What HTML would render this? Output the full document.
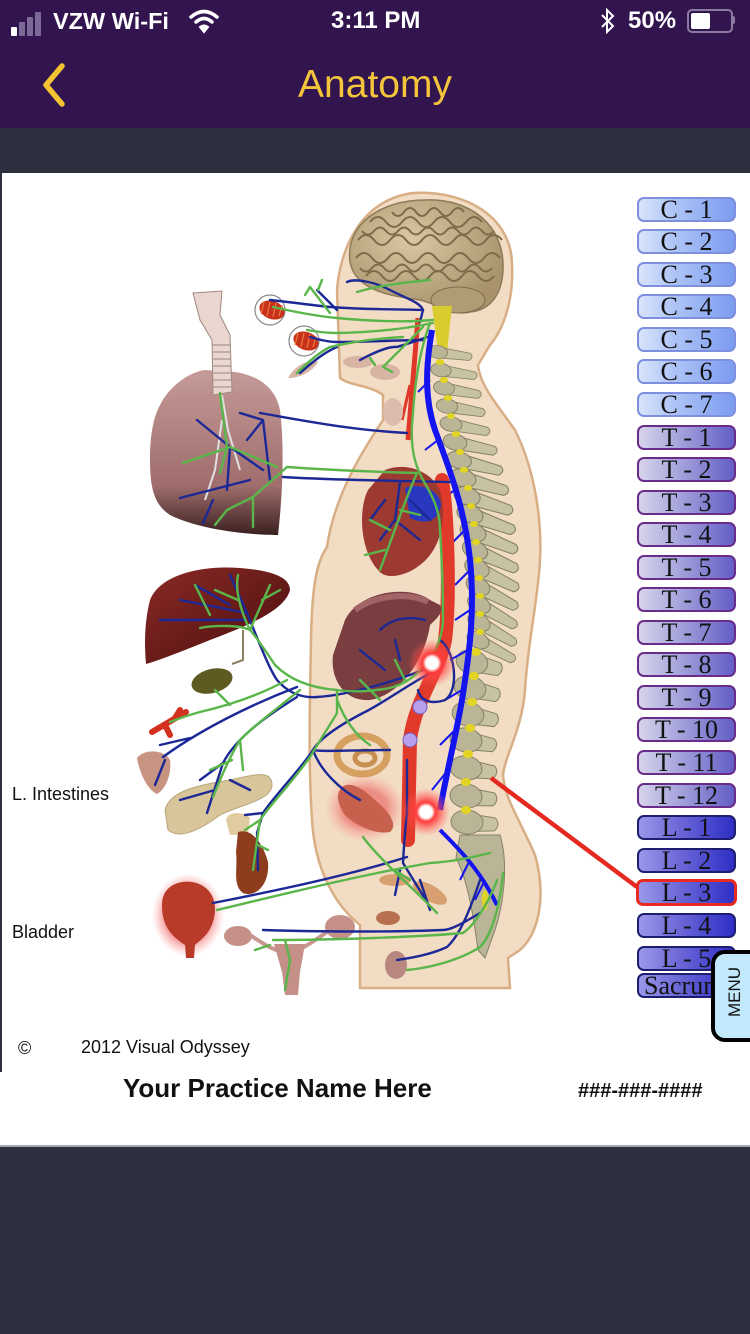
<!DOCTYPE html>
<html><head><meta charset="utf-8">
<style>
html,body{margin:0;padding:0;}
body{width:750px;height:1334px;position:relative;overflow:hidden;background:#2d2e3e;font-family:"Liberation Sans",sans-serif;}
.abs{position:absolute;}
#status{left:0;top:0;width:750px;height:128px;background:#32154f;}
.st{color:#fff;font-size:24px;top:6px;line-height:30px;}
.btn{position:absolute;left:637px;width:95px;height:21px;border-radius:7px;font-family:"Liberation Serif",serif;font-size:26px;line-height:22px;text-align:center;color:#111;white-space:nowrap;overflow:hidden;}
.c{background:linear-gradient(90deg,#d8e4fb 0%,#b0c6f6 35%,#7c9cf0 100%);border:2px solid #7d8fde;}
.t{background:linear-gradient(90deg,#d6d4ea 0%,#a8a6dc 40%,#625ec6 100%);border:2px solid #6a2c8a;}
.l{background:linear-gradient(90deg,#9a98e8 0%,#6e6ad8 40%,#2e2ec6 100%);border:2px solid #1e1e70;}
.lbl{color:#111;font-size:18px;}
</style></head>
<body>
<div id="status" class="abs"></div>
<!-- status bar -->
<div class="abs" style="left:11px;top:27px;width:6px;height:9px;background:#fff;border-radius:1px"></div>
<div class="abs" style="left:19px;top:22px;width:6px;height:14px;background:#7d6a98;border-radius:1px"></div>
<div class="abs" style="left:27px;top:17px;width:6px;height:19px;background:#7d6a98;border-radius:1px"></div>
<div class="abs" style="left:35px;top:12px;width:6px;height:24px;background:#7d6a98;border-radius:1px"></div>
<div class="abs st" style="left:53px;font-weight:bold;font-size:23.5px;">VZW Wi-Fi</div>
<svg class="abs" style="left:189px;top:8px" width="30" height="26" viewBox="0 0 30 26">
<path d="M2,9 Q15,-2 28,9" stroke="#fff" stroke-width="3.5" fill="none" stroke-linecap="round"/>
<path d="M7,14 Q15,7 23,14" stroke="#fff" stroke-width="3.5" fill="none" stroke-linecap="round"/>
<path d="M11,19 Q15,16 19,19 L15,24 Z" fill="#fff" stroke="#fff" stroke-width="2"/>
</svg>
<div class="abs st" style="left:331px;font-weight:bold;">3:11 PM</div>
<svg class="abs" style="left:599px;top:8px" width="18" height="26" viewBox="0 0 18 26">
<path d="M3,7 L14,18 L8,24 L8,2 L14,8 L3,19" stroke="#fff" stroke-width="2" fill="none"/>
</svg>
<div class="abs st" style="left:628px;font-size:24px;font-weight:bold;">50%</div>
<div class="abs" style="left:687px;top:9px;width:42px;height:20px;border:2px solid #8a7aa0;border-radius:5px;"></div>
<div class="abs" style="left:691px;top:13px;width:19px;height:16px;background:#fff;border-radius:2px;"></div>
<div class="abs" style="left:732px;top:16px;width:3px;height:8px;background:#8a7aa0;border-radius:0 2px 2px 0;"></div>
<!-- nav -->
<svg class="abs" style="left:36px;top:60px" width="36" height="50" viewBox="0 0 36 50">
<path d="M26,6 L10,25 L26,44" stroke="#f3c332" stroke-width="5.5" fill="none" stroke-linecap="round" stroke-linejoin="round"/>
</svg>
<div class="abs" style="left:0;width:750px;top:60px;text-align:center;color:#f4c43a;font-size:39px;line-height:50px;">Anatomy</div>

<!-- white content -->
<div class="abs" style="left:2px;top:173px;width:748px;height:900px;background:#fff"></div>
<div class="abs" style="left:0;top:1072px;width:750px;height:73px;background:#fff"></div>
<div class="abs" style="left:0;top:1145px;width:750px;height:2px;background:#a6a6ae"></div>

<svg class="abs" style="left:0;top:0" width="750" height="1334" viewBox="0 0 750 1334">
<defs>
<radialGradient id="glow" cx="50%" cy="50%" r="50%">
<stop offset="0" stop-color="#fff"/>
<stop offset="0.25" stop-color="#fff"/>
<stop offset="0.4" stop-color="#ff3a3a"/>
<stop offset="0.7" stop-color="#ff4848" stop-opacity="0.45"/>
<stop offset="1" stop-color="#ff6060" stop-opacity="0"/>
</radialGradient>
<radialGradient id="pglow" cx="50%" cy="50%" r="50%">
<stop offset="0.55" stop-color="#e85050" stop-opacity="0.8"/>
<stop offset="1" stop-color="#ff9090" stop-opacity="0"/>
</radialGradient>
<linearGradient id="lungg" x1="0" y1="0" x2="0" y2="1">
<stop offset="0" stop-color="#c59a98"/><stop offset="0.7" stop-color="#a06e6c"/><stop offset="1" stop-color="#3a2020"/>
</linearGradient>
<linearGradient id="liverg" x1="0" y1="0" x2="1" y2="1">
<stop offset="0" stop-color="#8a2a26"/><stop offset="1" stop-color="#4a0e0e"/>
</linearGradient>
<radialGradient id="braing" cx="40%" cy="35%" r="65%">
<stop offset="0" stop-color="#d9c8a2"/><stop offset="1" stop-color="#a8936c"/>
</radialGradient>
<g id="v">
<path d="M4,-6 L40,-4 Q46,0 40,5 L4,7 Z" fill="#c6c2a2" stroke="#858266" stroke-width="1"/>
<ellipse cx="0" cy="0" rx="12" ry="8" fill="#b9b596" stroke="#858266" stroke-width="1"/>
</g>
<g id="lv">
<path d="M6,-8 L28,-6 Q34,0 28,7 L6,9 Z" fill="#c6c2a2" stroke="#858266" stroke-width="1"/>
<ellipse cx="0" cy="0" rx="16" ry="12" fill="#b9b596" stroke="#858266" stroke-width="1"/>
</g>
</defs>

<!-- body silhouette -->
<path d="M413,193 C470,190 512,220 512,265 C514,300 503,330 490,345 L478,365 C480,385 495,402 515,430 C535,470 542,520 540,560 C538,600 528,640 525,690 C522,730 505,755 503,775 C505,800 520,820 535,855 C545,890 542,930 520,950 L508,958 L510,988 L360,988 L360,925 C335,905 315,870 312,820 C308,760 310,700 311,640 C312,580 318,560 327,547 C335,490 370,440 383,420 L383,395 C370,385 350,386 340,378 L337,290 C340,250 360,200 413,193 Z" fill="#f3dcc4" stroke="#d8ae84" stroke-width="2.5"/>

<!-- brain -->
<path d="M350,262 C345,225 380,200 425,200 C470,198 505,225 503,270 C502,295 490,310 470,312 C455,316 440,305 420,300 C390,296 355,290 350,262 Z" fill="url(#braing)" stroke="#8c7b58" stroke-width="1.5"/>
<g stroke="#7f6b48" stroke-width="2" fill="none">
<path d="M370,222 q8,-10 16,0 t16,0 t16,0 t16,0 t16,0 t16,0 t16,0"/>
<path d="M358,240 q8,-10 16,0 t16,0 t16,0 t16,0 t16,0 t16,0 t16,0 t16,0 t16,0"/>
<path d="M356,258 q8,-10 16,0 t16,0 t16,0 t16,0 t16,0 t16,0 t16,0 t16,0 t16,0"/>
<path d="M366,276 q8,-10 16,0 t16,0 t16,0 t16,0 t16,0 t16,0 t16,0 t16,0"/>
<path d="M392,212 q6,8 12,0 t12,0 t12,0 t12,0 t12,0 t12,0"/>
<path d="M362,231 q6,7 12,0 t12,0 t12,0 t12,0 t12,0 t12,0 t12,0 t12,0 t12,0 t12,0 t12,0"/>
<path d="M360,268 q6,7 12,0 t12,0 t12,0 t12,0 t12,0 t12,0 t12,0 t12,0 t12,0 t12,0 t12,0"/>
</g>
<ellipse cx="458" cy="300" rx="27" ry="13" fill="#b09c74" stroke="#7f6b48" stroke-width="1"/>
<path d="M432,306 L452,306 L447,352 L438,352 Z" fill="#d8cc2e"/>

<!-- carotid -->
<path d="M418,318 L408,440" stroke="#e03828" stroke-width="5" fill="none"/>
<path d="M410,385 L402,420" stroke="#e03828" stroke-width="3" fill="none"/>

<!-- spine -->
<use href="#v" transform="translate(438,352) rotate(8) scale(0.8)"/>
<use href="#v" transform="translate(441,370) rotate(9) scale(0.85)"/>
<use href="#v" transform="translate(444,388) rotate(10) scale(0.88)"/>
<use href="#v" transform="translate(447,406) rotate(10) scale(0.9)"/>
<use href="#v" transform="translate(451,424) rotate(11) scale(0.92)"/>
<use href="#v" transform="translate(455,442) rotate(12) scale(1)"/>
<use href="#v" transform="translate(459,460) rotate(14) scale(1.05)"/>
<use href="#v" transform="translate(463,478) rotate(16) scale(1.1)"/>
<use href="#v" transform="translate(467,496) rotate(18) scale(1.12)"/>
<use href="#v" transform="translate(470,514) rotate(20) scale(1.12)"/>
<use href="#v" transform="translate(473,532) rotate(22) scale(1.12)"/>
<use href="#v" transform="translate(475,550) rotate(24) scale(1.1)"/>
<use href="#v" transform="translate(477,568) rotate(26) scale(1.08)"/>
<use href="#v" transform="translate(478,586) rotate(28) scale(1.05)"/>
<use href="#v" transform="translate(479,604) rotate(30) scale(1.02)"/>
<use href="#v" transform="translate(479,622) rotate(30) scale(1)"/>
<use href="#v" transform="translate(478,640) rotate(28) scale(0.98)"/>
<use href="#lv" transform="translate(472,662) rotate(14)"/>
<use href="#lv" transform="translate(470,688) rotate(14)"/>
<use href="#lv" transform="translate(468,714) rotate(12)"/>
<use href="#lv" transform="translate(466,740) rotate(10)"/>
<use href="#lv" transform="translate(466,768) rotate(8)"/>
<use href="#lv" transform="translate(466,796) rotate(6)"/>
<use href="#lv" transform="translate(467,822) rotate(4)"/>
<path d="M460,835 L500,835 C508,860 505,900 495,930 L485,958 L478,950 C474,920 468,880 456,858 Z" fill="#b9b596" stroke="#858266" stroke-width="1"/>
<g fill="#e2d422">
<ellipse cx="440" cy="362" rx="4" ry="3"/><ellipse cx="444" cy="380" rx="4" ry="3"/><ellipse cx="448" cy="398" rx="4" ry="3"/>
<ellipse cx="451" cy="416" rx="4" ry="3"/><ellipse cx="456" cy="434" rx="4" ry="3"/><ellipse cx="460" cy="452" rx="4" ry="3"/>
<ellipse cx="464" cy="470" rx="4" ry="3"/><ellipse cx="468" cy="488" rx="4" ry="3"/><ellipse cx="471" cy="506" rx="4" ry="3"/>
<ellipse cx="474" cy="524" rx="4" ry="3"/><ellipse cx="476" cy="542" rx="4" ry="3"/><ellipse cx="478" cy="560" rx="4" ry="3"/>
<ellipse cx="479" cy="578" rx="4" ry="3"/><ellipse cx="480" cy="596" rx="4" ry="3"/><ellipse cx="480" cy="614" rx="4" ry="3"/>
<ellipse cx="480" cy="632" rx="4" ry="3"/><ellipse cx="476" cy="652" rx="5" ry="4"/><ellipse cx="474" cy="676" rx="5" ry="4"/>
<ellipse cx="472" cy="702" rx="5" ry="4"/><ellipse cx="470" cy="728" rx="5" ry="4"/><ellipse cx="468" cy="754" rx="5" ry="4"/>
<ellipse cx="466" cy="782" rx="5" ry="4"/><ellipse cx="466" cy="810" rx="5" ry="4"/><ellipse cx="485" cy="900" rx="3" ry="10"/>
</g>

<!-- spinal blue cord -->
<path d="M432,330 C425,370 425,400 435,430 C450,470 465,510 470,560 C475,610 470,650 462,700 C455,740 445,780 440,810" stroke="#1414f0" stroke-width="6" fill="none"/>
<path d="M440,830 C460,850 480,870 497,905" stroke="#1414f0" stroke-width="4" fill="none"/>
<g stroke="#1414f0" stroke-width="2" fill="none">
<path d="M430,380 L418,392"/><path d="M438,440 L425,450"/><path d="M455,490 L440,500"/><path d="M465,530 L450,545"/>
<path d="M470,570 L455,585"/><path d="M470,610 L455,620"/><path d="M468,650 L450,660"/><path d="M462,690 L445,700"/>
<path d="M455,730 L440,745"/><path d="M448,770 L432,790"/><path d="M470,860 L460,880"/><path d="M485,880 L475,900"/>
</g>

<!-- aorta -->
<path d="M442,480 C448,520 450,600 445,640 C440,670 415,700 410,740 L408,840" stroke="#e23a2a" stroke-width="14" fill="none" stroke-linecap="round"/>

<!-- heart -->
<path d="M385,470 C405,462 430,470 440,490 C448,520 440,550 420,565 C405,577 385,580 378,570 C360,550 358,510 368,490 Z" fill="#9c3a32"/>
<path d="M405,488 C420,482 440,490 441,505 C438,522 425,525 410,518 Z" fill="#2a38c0"/>

<!-- stomach -->
<path d="M345,620 C360,590 410,585 430,600 L440,605 C445,612 435,620 430,625 C425,660 400,695 370,700 C345,702 330,680 333,655 Z" fill="#7a3e40"/>
<path d="M355,610 C375,595 410,592 428,602" stroke="#a26466" stroke-width="6" fill="none"/>

<!-- face small organs -->
<ellipse cx="358" cy="362" rx="15" ry="6" fill="#d8b4a4"/>
<ellipse cx="385" cy="372" rx="15" ry="8" fill="#d8b4a4"/>
<path d="M288,378 C295,365 310,358 318,362 C312,372 300,378 288,378 Z" fill="#d8b4a4"/>
<ellipse cx="393" cy="412" rx="10" ry="14" fill="#dcbcae"/>

<!-- trachea & lung -->
<path d="M160,405 C170,385 190,372 205,370 L235,372 C255,375 275,385 280,410 C285,450 282,500 278,535 C250,535 200,530 170,515 C155,505 150,490 150,460 C150,440 152,420 160,405 Z" fill="url(#lungg)"/>
<path d="M193,293 L222,291 L220,315 L230,335 L232,392 L213,395 L212,340 L200,320 Z" fill="#e8d6cf" stroke="#a08880" stroke-width="1"/>
<g stroke="#a89890" stroke-width="1.2">
<path d="M212,345 L231,345"/><path d="M212,352 L231,352"/><path d="M212,359 L231,359"/><path d="M212,366 L231,366"/><path d="M212,373 L231,373"/><path d="M212,380 L231,380"/><path d="M212,387 L231,387"/>
</g>
<path d="M222,395 L228,430 L240,470 M222,420 L215,470 L205,500" stroke="#e0e0e0" stroke-width="2" fill="none"/>

<!-- eyes -->
<circle cx="270" cy="310" r="15" fill="#fff" stroke="#888" stroke-width="1.2"/>
<ellipse cx="272" cy="310" rx="13" ry="9" fill="#c8321a" transform="rotate(20 272 310)"/>
<circle cx="304" cy="341" r="15" fill="#fff" stroke="#888" stroke-width="1.2"/>
<ellipse cx="306" cy="341" rx="13" ry="9" fill="#c8321a" transform="rotate(20 306 341)"/>
<g stroke="#e87a40" stroke-width="1.2"><path d="M264,302 L261,314 M270,302 L267,316 M276,303 L273,317 M282,305 L279,316"/><path d="M298,333 L295,345 M304,333 L301,347 M310,334 L307,348 M316,336 L313,347"/></g>

<!-- liver -->
<path d="M150,600 C160,575 200,565 240,568 C265,570 290,575 290,590 C285,610 250,625 210,640 C180,652 160,660 146,664 C144,640 145,620 150,600 Z" fill="url(#liverg)"/>
<path d="M243,630 L243,660 L232,664" stroke="#8a8060" stroke-width="2" fill="none"/>
<ellipse cx="212" cy="681" rx="21" ry="12" fill="#5e5a22" transform="rotate(-15 212 681)"/>
<path d="M152,732 L186,712 M165,725 L170,735 M175,718 L180,710" stroke="#d43020" stroke-width="6" fill="none" stroke-linecap="round"/>
<path d="M137,758 C145,748 165,750 170,760 C172,775 165,790 157,794 C148,790 140,775 137,758 Z" fill="#c89482"/>
<path d="M165,810 C170,790 200,785 230,780 C250,776 272,768 272,785 C272,800 240,805 220,815 C200,830 180,840 168,830 Z" fill="#d8c59a" stroke="#b8a57a" stroke-width="1"/>
<path d="M226,820 C228,810 245,812 250,818 L248,835 L230,835 Z" fill="#e0cca0"/>
<path d="M238,832 C250,828 262,840 268,862 C270,885 255,898 243,893 C232,885 238,868 236,852 Z" fill="#8e3c1e"/>

<!-- bladder -->
<ellipse cx="188" cy="915" rx="36" ry="42" fill="url(#pglow)"/>
<path d="M162,905 C162,885 180,880 192,882 C210,885 218,900 214,918 C210,935 200,940 195,945 L194,958 L186,958 L185,945 C170,935 162,925 162,905 Z" fill="#b83a28"/>

<!-- reproductive -->
<path d="M250,935 C265,945 275,952 288,952 C300,952 315,940 330,930" stroke="#c89890" stroke-width="4" fill="none"/>
<ellipse cx="238" cy="936" rx="14" ry="10" fill="#c49088"/>
<ellipse cx="340" cy="927" rx="15" ry="12" fill="#c49088"/>
<path d="M274,944 L305,944 L300,972 L298,995 L285,995 L282,972 Z" fill="#c49088"/>

<!-- intestine coil / red organ / small organs -->
<ellipse cx="362" cy="755" rx="25" ry="19" fill="none" stroke="#d5a060" stroke-width="7"/>
<ellipse cx="365" cy="758" rx="10" ry="7" fill="none" stroke="#c89050" stroke-width="5"/>
<ellipse cx="365" cy="808" rx="40" ry="34" fill="url(#pglow)" opacity="0.7"/>
<path d="M340,790 C345,780 360,785 375,800 C390,812 398,825 390,832 C375,835 355,825 345,815 C338,805 336,795 340,790 Z" fill="#c8604e"/>
<ellipse cx="395" cy="880" rx="16" ry="6" fill="#d8a070"/>
<ellipse cx="430" cy="893" rx="19" ry="8" fill="#d8a070" transform="rotate(30 430 893)"/>
<ellipse cx="388" cy="918" rx="12" ry="7" fill="#b87050"/>
<ellipse cx="396" cy="965" rx="11" ry="14" fill="#b88880"/>

<!-- nerves: blue -->
<g stroke="#1c2896" stroke-width="2.4" fill="none" stroke-linecap="round">
<path d="M347,282 C355,278 375,282 390,290 C405,298 420,302 423,310 L420,322"/>
<path d="M270,300 C290,302 310,305 330,307 C370,310 400,309 423,310"/>
<path d="M317,290 L337,310"/>
<path d="M310,337 C320,340 330,342 337,342 C370,342 400,340 423,340"/>
<path d="M300,373 C315,360 325,352 337,347"/>
<path d="M360,360 C375,352 390,346 397,347 C410,343 420,340 427,337"/>
<path d="M260,413 C300,420 350,430 407,433"/>
<path d="M283,477 C330,480 400,481 450,482"/>
<path d="M240,413 L263,420 L270,480 M247,440 L263,420 M197,420 L230,447 L227,490 M180,498 L250,480 M203,523 L213,500 M230,447 L263,470"/>
<path d="M400,482 L395,520 L380,540 M395,520 L420,540 M410,500 L430,520 M385,500 L370,520"/>
<path d="M247,613 C262,650 270,670 277,680 C290,695 305,698 317,697 C350,695 400,680 430,667"/>
<path d="M180,600 L247,613 M195,585 L230,605 M230,575 L247,613 M160,620 L245,620"/>
<path d="M297,687 C250,705 200,730 163,757 M190,738 L160,745 M165,760 L155,785"/>
<path d="M297,697 C260,720 235,740 223,763 L207,813 M223,763 L200,780 M215,790 L180,800 M230,780 L250,790"/>
<path d="M430,673 C400,690 380,705 363,713 C340,725 320,738 313,750 C300,770 275,795 263,813 L257,833 M263,813 L245,815 M257,833 L258,870"/>
<path d="M313,750 C320,752 350,750 390,750"/>
<path d="M313,750 C320,770 340,790 360,800"/>
<path d="M407,760 L407,813 C405,830 404,845 403,863 L430,907"/>
<path d="M407,857 C350,875 280,890 213,903"/>
<path d="M480,913 C460,925 450,930 443,930 C400,932 320,932 263,930"/>
<path d="M480,880 C470,910 460,935 447,947 C430,955 410,958 397,960"/>
<path d="M420,880 L430,910 M400,870 L395,895"/>
<path d="M380,630 C390,620 405,615 425,620 M360,650 L385,670 M395,640 L400,660"/>
<path d="M440,640 C455,650 460,690 445,700 C430,705 420,700 418,690"/>
</g>

<!-- nerves: green -->
<g stroke="#5ab64a" stroke-width="2.4" fill="none" stroke-linecap="round">
<path d="M357,292 C380,285 410,282 430,280"/>
<path d="M273,307 C295,312 315,316 337,318 C380,322 410,322 433,320"/>
<path d="M310,287 L330,313 M318,290 L322,280 M310,287 L305,295"/>
<path d="M307,330 C318,332 328,333 337,333 C380,332 410,328 433,323"/>
<path d="M297,373 C310,360 320,352 330,347 C360,340 385,338 403,337"/>
<path d="M383,367 C395,355 410,340 423,327 M375,365 L370,358 M385,368 L392,372"/>
<path d="M430,323 C420,350 415,380 413,413 C410,440 412,460 423,480 C432,495 440,510 440,530 C442,560 443,590 443,620 C442,650 420,680 390,688 C370,692 350,692 337,690 C310,688 290,680 275,665 C265,650 255,635 250,630"/>
<path d="M287,467 C330,470 380,472 417,473 C405,500 395,530 380,570"/>
<path d="M220,393 L227,447 L220,473 M183,463 L230,447 L277,467 M227,510 L253,497 L287,467 M253,497 L253,527 M227,510 L215,525"/>
<path d="M390,530 L370,520 M400,510 L420,515 M385,550 L365,555"/>
<path d="M250,630 C240,625 215,625 200,628 M250,630 C240,610 235,590 238,575 M238,600 L215,590 M210,615 L195,585 M250,630 L270,585 M262,600 L280,590"/>
<path d="M287,680 C260,695 230,705 200,712 C185,716 175,720 170,722 M230,705 L215,690"/>
<path d="M300,690 C275,710 255,725 240,740 C228,760 220,780 213,797 M240,740 L243,770 M232,760 L210,770"/>
<path d="M337,690 L337,713 C330,725 320,740 310,757 C290,785 270,805 260,820 L253,870 M260,820 L245,830 M258,845 L268,850"/>
<path d="M360,680 L380,700 M395,660 L405,680"/>
<path d="M490,853 C470,858 450,862 430,863 C360,875 280,895 217,910"/>
<path d="M497,880 C490,900 475,925 463,933 C420,937 330,940 273,940"/>
<path d="M503,873 C500,905 492,935 480,947 C460,960 430,968 407,970"/>
<path d="M363,837 C380,860 410,885 437,913 M395,870 L410,880"/>
<path d="M285,940 L290,960 L285,990 M270,945 L255,950"/>
<path d="M337,700 C345,720 355,735 370,745"/>
</g>

<!-- glows -->
<circle cx="432" cy="663" r="24" fill="url(#glow)"/>
<circle cx="426" cy="812" r="24" fill="url(#glow)"/>
<circle cx="420" cy="707" r="7" fill="#b8a0ee" stroke="#7060c0" stroke-width="1"/>
<circle cx="410" cy="740" r="7" fill="#b8a0ee" stroke="#7060c0" stroke-width="1"/>

<!-- pointer -->
<path d="M491,778 L637,887" stroke="#e42a20" stroke-width="4.5"/>
</svg>

<!-- labels -->
<div class="abs lbl" style="left:12px;top:784px;">L. Intestines</div>
<div class="abs lbl" style="left:12px;top:922px;">Bladder</div>
<div class="abs lbl" style="left:18px;top:1038px;">©</div>
<div class="abs lbl" style="left:81px;top:1037px;">2012 Visual Odyssey</div>
<div class="abs" style="left:123px;top:1073px;font-size:26px;font-weight:bold;color:#111;">Your Practice Name Here</div>
<div class="abs" style="left:578px;top:1080px;font-size:20px;font-weight:bold;color:#111;">###-###-####</div>

<!-- buttons -->
<div class="btn c" style="top:197px">C - 1</div>
<div class="btn c" style="top:229px">C - 2</div>
<div class="btn c" style="top:262px">C - 3</div>
<div class="btn c" style="top:294px">C - 4</div>
<div class="btn c" style="top:327px">C - 5</div>
<div class="btn c" style="top:359px">C - 6</div>
<div class="btn c" style="top:392px">C - 7</div>
<div class="btn t" style="top:425px">T - 1</div>
<div class="btn t" style="top:457px">T - 2</div>
<div class="btn t" style="top:490px">T - 3</div>
<div class="btn t" style="top:522px">T - 4</div>
<div class="btn t" style="top:555px">T - 5</div>
<div class="btn t" style="top:587px">T - 6</div>
<div class="btn t" style="top:620px">T - 7</div>
<div class="btn t" style="top:652px">T - 8</div>
<div class="btn t" style="top:685px">T - 9</div>
<div class="btn t" style="top:717px">T - 10</div>
<div class="btn t" style="top:750px">T - 11</div>
<div class="btn t" style="top:783px">T - 12</div>
<div class="btn l" style="top:815px">L - 1</div>
<div class="btn l" style="top:848px">L - 2</div>
<div class="btn l" style="top:879px;border:3px solid #e82a22;left:636px;width:95px;">L - 3</div>
<div class="btn l" style="top:913px">L - 4</div>
<div class="btn l" style="top:946px">L - 5</div>
<div class="btn l" style="top:973px;text-align:left;padding-left:5px;width:90px;">Sacrum</div>

<!-- menu tab -->
<div class="abs" style="left:711px;top:950px;width:50px;height:84px;border:4px solid #000;border-radius:14px;background:#c2e9fb;"></div>
<div class="abs" style="left:700px;top:981px;width:70px;height:22px;line-height:22px;text-align:center;font-size:17px;color:#111;transform:rotate(-90deg);">MENU</div>
</body></html>
